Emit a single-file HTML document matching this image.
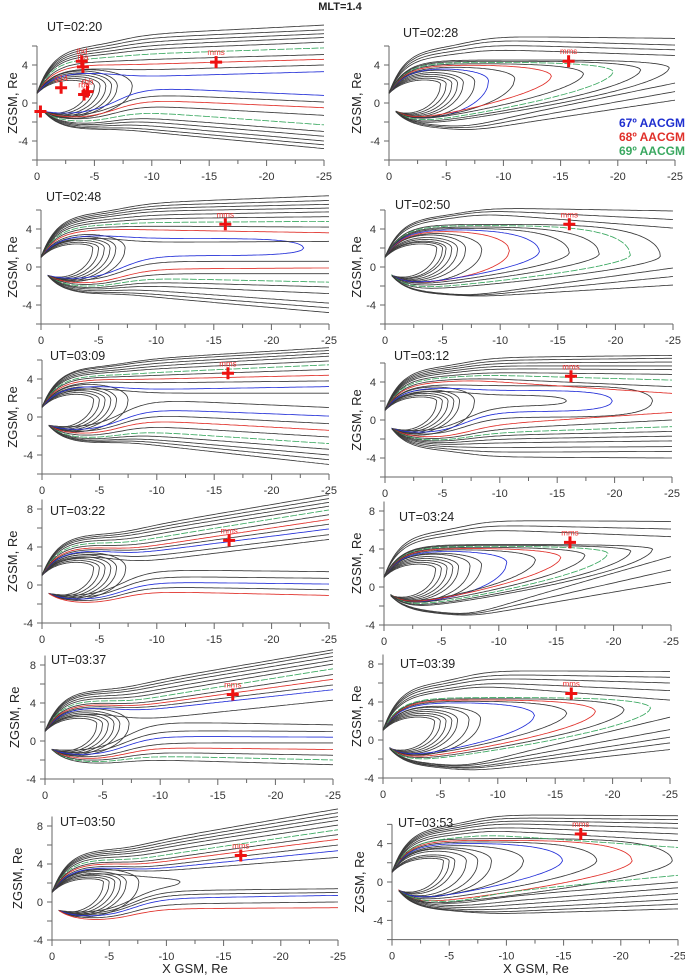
<!DOCTYPE html>
<html><head><meta charset="utf-8"><title>MLT=1.4 field lines</title>
<style>
html,body{margin:0;padding:0;background:#fff;}
svg{display:block;font-family:"Liberation Sans",Arial,sans-serif;}
</style></head>
<body>
<svg id="fig" width="685" height="979" viewBox="0 0 685 979" xmlns="http://www.w3.org/2000/svg">
<text x="340" y="10" font-size="11" font-weight="bold" fill="#222" text-anchor="middle">MLT=1.4</text>
<g font-size="12" font-weight="bold">
<text x="619" y="127" fill="#1f2fd0">67º AACGM</text>
<text x="619" y="141" fill="#e0302a">68º AACGM</text>
<text x="619" y="155" fill="#3aa860">69º AACGM</text>
</g>
<text x="195" y="973" font-size="13" fill="#222" text-anchor="middle">X GSM, Re</text>
<text x="536" y="973" font-size="13" fill="#222" text-anchor="middle">X GSM, Re</text>
</svg>
<script>
// ---- data (per panel, panel order: row by row, left then right) ----
const utLabels = ["UT=02:20","UT=02:28","UT=02:48","UT=02:50","UT=03:09","UT=03:12","UT=03:22","UT=03:24","UT=03:37","UT=03:39","UT=03:50","UT=03:53"];
const closedTips = [
 [4.5,5,5.5,6,6.5,7,8.3],
 [4.5,5,5.5,6,6.5,7.5,8.7,11,14.2,17,19.6,22,24.5],
 [4.5,5,5.5,6,6.5,7.3,22.8],
 [4.5,5,5.3,5.8,6.3,7,8.4,10.8,13.4,16,18.6,21.3,23.9],
 [4.5,5,5.5,6,6.5,7.5],
 [4.5,5,5.5,6,6.5,7.8,15.8,19.8,23.3],
 [4.5,5,5.5,6,6.5,7.3],
 [4.5,5,5.5,6,6.5,7.5,8.5,10.7,13.2,15.4,17.5,19.5,21.5,23.4],
 [4.5,5,5.5,6,6.5,7.3],
 [4.5,5,5.5,6,6.5,7.5,8.5,13.2,16,18.5,21,23.3],
 [4.5,5,5.5,6,6.5,7.6,11.2],
 [4.5,5,5.5,6.5,7.5,8.7,11.5,14.9,17.9,21,24.5]
];
// heights of the stretched (thin) loops in the tail; null = ordinary dipole-like loop
const closedFarTop = [
 [null,null,null,null,null,null,null],
 [],
 [null,null,null,null,null,null,3.0],
 [],
 [],
 [null,null,null,null,null,null,2.6,3.1,3.6],
 [],
 [],
 [],
 [],
 [null,null,null,null,null,null,2.5],
 []
];
const closedFarBot = [
 [null,null,null,null,null,null,null],
 [],
 [null,null,null,null,null,null,1.2],
 [],
 [],
 [null,null,null,null,null,null,1.5,0.9,0.3],
 [],
 [],
 [],
 [],
 [null,null,null,null,null,null,1.7],
 []
];
const closedColors = ["kkkkkkk","kkkkkkbkrkgkk","kkkkkkb","kkkkkkkrbkkgk","kkkkkk","kkkkkkkbk","kkkkkk","kkkkkkkbkrkgkk","kkkkkk","kkkkkkkbkrkg","kkkkkkk","kkkkkkkbkrk"];
const tipBase = [1.8,1.6,2.0,2.2,1.8,2.0,1.8,1.4,1.8,1.6,2.1,2.2];
const tipSlope = [0,0.085,0,-0.045,0,0,0,0.11,0,0.075,0,0];
const upperZ10 = [
 [2.8,3.5,4.1,4.6,5.2,5.7,6.1,6.5,6.9,7.3],
 [5.6,6.1,6.6,7.0],
 [2.6,3.9,4.3,4.7,5.1,5.5,5.9,6.2,6.5,6.8],
 [5.5,5.9,6.2],
 [2.5,2.9,3.6,4.0,4.4,4.7,5.1,5.4,5.7,6.0,6.2],
 [4.0,4.3,4.7,5.0,5.4,5.7,6.0,6.3,6.6],
 [2.6,3.1,3.6,3.9,4.2,4.6,5.0,5.4,5.8,6.1,6.4],
 [6.0,6.5,7.0],
 [2.4,3.4,3.7,4.0,4.3,4.7,5.1,5.5,5.9,6.2,6.5],
 [5.6,6.0,6.5,6.9,7.3],
 [3.3,3.6,3.9,4.3,4.6,5.0,5.4,5.8,6.1,6.4,6.7],
 [4.8,5.3,5.7,6.1,6.4,6.7,7.0]
];
const upperZ25 = [
 [3.3,4.0,4.6,5.1,5.8,6.4,6.9,7.3,7.7,8.2],
 [5.0,5.6,6.1,6.8],
 [2.7,3.6,4.2,4.8,5.3,5.8,6.2,6.6,7.0,7.5],
 [4.1,5.0,5.9],
 [2.5,3.2,3.8,4.4,5.0,5.5,5.9,6.4,6.7,7.0,7.3],
 [2.8,3.5,4.2,4.8,5.3,5.7,6.1,6.5,6.8],
 [4.8,5.3,5.9,6.4,6.9,7.4,7.9,8.3,8.7,9.1,9.5],
 [5.3,6.1,6.9],
 [4.3,5.4,5.9,6.5,7.0,7.6,8.1,8.5,8.9,9.3,9.6],
 [4.2,5.2,6.0,6.6,7.2],
 [4.7,5.4,6.0,6.6,7.1,7.6,8.1,8.6,9.0,9.4,9.8],
 [3.6,4.3,5.0,5.6,6.1,6.5,6.9]
];
const upperColors = ["bkrkgkkkkk","kkkk","krkgkkkkkk","kkk","kbkrkgkkkkk","rkgkkkkkk","kkbkrkgkkkk","kkk","kbkrkgkkkkk","kkkkk","kbkrkgkkkkk","gkkkkkk"];
const lowerZ10 = [
 [1.6,0.9,0.3,-0.3,-1.0,-1.6,-2.0,-2.4,-2.8,-3.1],
 [-1.6,-2.0,-2.4],
 [0.6,-0.2,-0.7,-1.2,-1.6,-2.0,-2.5,-2.9,-3.2],
 [-2.6,-2.8,-3.0],
 [1.8,0.8,0.2,-0.4,-1.0,-1.6,-2.0,-2.4,-2.7,-3.0],
 [-0.4,-0.9,-1.3,-1.6,-2.0,-2.4,-2.9,-3.4,-3.9],
 [1.6,0.9,0.3,-0.2,-0.7],
 [-2.0,-2.3,-2.6],
 [2.0,1.1,0.5,-0.2,-0.7,-1.2,-1.6,-2.0],
 [-1.9,-2.2,-2.5,-2.7,-3.0],
 [1.2,0.8,0.4,-0.2,-0.7],
 [-1.0,-1.5,-2.0,-2.4,-2.8,-3.1,-3.3]
];
const lowerZ25 = [
 [0.8,0.1,-0.5,-1.3,-2.3,-3.0,-3.5,-4.0,-4.4,-4.8],
 [2.1,1.2,0.3],
 [0.6,-0.1,-0.7,-1.6,-2.1,-2.8,-3.8,-4.3,-4.8],
 [-0.1,-1.0,-1.9],
 [1.0,0.1,-0.7,-1.4,-2.1,-2.8,-3.4,-4.0,-4.5,-5.0],
 [0.8,0.0,-0.7,-1.2,-1.7,-2.2,-2.8,-3.3,-4.0],
 [1.4,0.7,0.1,-0.5,-1.1],
 [3.2,1.8,0.5],
 [1.7,1.0,0.4,-0.2,-0.9,-1.5,-2.0,-2.5],
 [2.4,1.1,0.3,-0.3,-1.0],
 [1.4,1.0,0.7,0.0,-0.6],
 [0.7,0.0,-0.6,-1.2,-1.8,-2.3,-2.8]
];
const lowerColors = ["bkrkgkkkkk","kkk","krkgkkkkk","kkk","kbkrkgkkkk","rkgkkkkkk","kkbkr","kkk","kkbkrkgk","kkkkk","kkbkr","gkkkkkk"];
const mmsX = [-15.6,-15.7,-16.0,-16.0,-16.2,-16.2,-16.3,-16.2,-16.3,-16.4,-16.5,-16.5];
const mmsZ = [4.3,4.4,4.5,4.5,4.6,4.6,4.7,4.7,4.9,4.9,4.9,5.0];
const craftX = [-0.3,-2.1,-3.9,-4.0,-4.1,-4.4];
const craftZ = [-0.9,1.6,4.4,3.8,0.9,1.2];
const craftLabels = ["","g14","thd","tha","rba","rbb"];
const xTickLabels = ["0","-5","-10","-15","-20","-25"];

// ---- layout ----
const X0 = [37,389,41,385,42,385,42,384,45,383,52,392];
const X25 = [324,675,329,673,329,672,329,671,333,670,338,678];
const Y0 = [103,103,267,267,417,420,585,587,741,740,902,882];
const SZ = [9.5,9.5,9.5,9.5,9.5,9.5,9.5,9.5,9.5,9.5,9.5,9.6];
const zTop = [6,6,6,6,6,6,9,9,9,9,9,6];
const zBot = [-6,-6,-6,-6,-6,-6,-4,-4,-4,-4,-4,-6];
const utX = [47,403,46,395,50,394,50,399,51,400,60,398];
const utY = [31,37,201,209,360,360,515,521,664,668,826,827];
const ylabX = [13,357,13,357,13,357,13,357,15,357,18,360];

const NS = "http://www.w3.org/2000/svg";
const svg = document.getElementById("fig");
const COLORS = {k:"#3a3a3a", b:"#2430d8", r:"#e0302a", g:"#3aa860"};

function sx(p, x){ return X0[p] + (-x) * (X25[p] - X0[p]) / 25; }
function sy(p, z){ return Y0[p] - z * SZ[p]; }
function mk(tag, parent){ const e = document.createElementNS(NS, tag); parent.appendChild(e); return e; }

function pathFrom(p, pts){
  let d = "";
  pts.forEach((q, i) => { d += (i ? "L" : "M") + sx(p, -q[0]).toFixed(1) + "," + sy(p, q[1]).toFixed(1); });
  return d;
}

function upperProfile(u, z10, z25){
  const zN = 0.6 * z10 + 1.6;
  const near = 1 + (zN - 1) * (1 - Math.exp(-u / 1.4));
  const far = z10 + (z25 - z10) * (u - 10) / 15;
  const s = 1 / (1 + Math.exp(-(u - 7) / 1.3));
  return (1 - s) * near + s * far;
}
function lowerProfile(u, z10, z25){
  const zN = 0.35 * z10 - 1.8;
  const near = -0.9 + (zN + 0.9) * (1 - Math.exp(-(u - 0.6) / 1.4));
  const far = z10 + (z25 - z10) * (u - 10) / 15;
  const s = 1 / (1 + Math.exp(-(u - 7) / 1.3));
  return (1 - s) * near + s * far;
}

function closedLine(p, L, farTop, farBot){
  const zt = tipBase[p] + tipSlope[p] * L;
  const thin = farTop != null;
  const zNu = Math.min(1 + 0.38 * L, 3.3 + 0.05 * L);
  const zNl = Math.max(-0.9 - 0.16 * L, -1.6 - 0.05 * L);
  const mu = thin ? 10 : 2 + L / 5, ml = 1.6 + L / 10;
  const w = thin ? 0 : Math.min(1, Math.max(0, (L - 8) / 6));
  const st = L < 10 ? 0.08 : 0.15;
  const pts = [];
  for (let u = 0; u <= L + 1e-6; u += st){
    const t = Math.min(1, u / L);
    const f = thin ? upperProfile(u, farTop, farTop) : 1 + (zNu - 1) * (1 - Math.exp(-u / 1.4));
    const g = Math.pow(Math.max(0, 1 - Math.pow(t, mu)), 0.5);
    pts.push([u, zt + (f - zt) * g]);
  }
  pts.push([L, zt]);
  for (let u = L; u >= 0.6 - 1e-6; u -= st){
    const t = Math.min(1, u / L);
    let f, g;
    if (thin){
      f = lowerProfile(u, farBot, farBot);
      g = Math.pow(Math.max(0, 1 - Math.pow(t, 10)), 0.5);
    } else {
      f = -0.9 + (zNl + 0.9) * (1 - Math.exp(-(u - 0.6) / 1.4));
      const ge = Math.pow(Math.max(0, 1 - Math.pow(t, ml)), 0.5);
      const gl = Math.pow(Math.max(0, 1 - t), 0.6);
      g = (1 - w) * ge + w * gl;
    }
    pts.push([u, zt + (f - zt) * g]);
  }
  pts.push([0.6, -0.9]);
  return pts;
}

function openLine(upper, z10, z25){
  const pts = [];
  const start = upper ? 0 : 0.6;
  for (let u = start; u <= 25.001; u += 0.2){
    pts.push([u, upper ? upperProfile(u, z10, z25) : lowerProfile(u, z10, z25)]);
  }
  return pts;
}

function cross(p, g, x, z, label, nm){
  const cx = sx(p, x), cy = sy(p, z);
  const c = mk("path", g);
  c.setAttribute("d", `M${cx-6},${cy}H${cx+6}M${cx},${cy-6}V${cy+6}`);
  c.setAttribute("stroke", "#ee1111"); c.setAttribute("stroke-width", "3");
  
  
  if (label){
    const t = mk("text", g);
    t.setAttribute("x", cx); t.setAttribute("y", cy - 7);
    t.setAttribute("font-size", "8"); t.setAttribute("fill", "#e33");
    t.setAttribute("text-anchor", "middle");
    t.textContent = label;
    
    
  }
}

for (let p = 0; p < 12; p++){
  const g = mk("g", svg);
  
  

  const ax = mk("g", g);
  
  
  const yTopPx = sy(p, zTop[p]), yBotPx = sy(p, zBot[p]);
  let d = `M${X0[p]},${yTopPx}V${yBotPx}H${X25[p]}`;
  for (let z = zBot[p]; z <= zTop[p]; z += 2) d += `M${X0[p]-5},${sy(p,z)}H${X0[p]}`;
  for (let k = 0; k <= 10; k++){ const x = sx(p, -2.5 * k); d += `M${x},${yBotPx}V${yBotPx + (k % 2 ? 4 : 6)}`; }
  const axp = mk("path", ax);
  axp.setAttribute("d", d); axp.setAttribute("stroke", "#666"); axp.setAttribute("fill", "none"); axp.setAttribute("stroke-width", "1");
  
  
  for (let z = -8; z <= 8; z += 4){
    if (z < zBot[p] || z > zTop[p]) continue;
    const t = mk("text", ax);
    t.setAttribute("x", X0[p] - 9); t.setAttribute("y", sy(p, z) + 4);
    t.setAttribute("font-size", "11"); t.setAttribute("fill", "#333"); t.setAttribute("text-anchor", "end");
    t.textContent = String(z);
    
    
  }
  xTickLabels.forEach((lab, k) => {
    const t = mk("text", ax);
    t.setAttribute("x", sx(p, -5 * k)); t.setAttribute("y", yBotPx + 20);
    t.setAttribute("font-size", "11"); t.setAttribute("fill", "#333"); t.setAttribute("text-anchor", "middle");
    t.textContent = lab;
    
    
  });
  const yl = mk("text", ax);
  const ymid = (yTopPx + yBotPx) / 2;
  yl.setAttribute("x", ylabX[p]); yl.setAttribute("y", ymid);
  yl.setAttribute("font-size", "13"); yl.setAttribute("fill", "#222"); yl.setAttribute("text-anchor", "middle");
  yl.setAttribute("transform", `rotate(-90 ${ylabX[p]} ${ymid})`);
  yl.setAttribute("dy", "4");
  yl.textContent = "ZGSM, Re";
  
  

  const ut = mk("text", g);
  ut.setAttribute("x", utX[p]); ut.setAttribute("y", utY[p]);
  ut.setAttribute("font-size", "12.5"); ut.setAttribute("fill", "#222");
  ut.textContent = utLabels[p];
  
  

  const lines = mk("g", g);
  lines.setAttribute("fill", "none"); lines.setAttribute("stroke-width", "0.85");
  
  
  function addLine(pts, col, nm){
    const e = mk("path", lines);
    e.setAttribute("d", pathFrom(p, pts));
    e.setAttribute("stroke", COLORS[col] || COLORS.k);
    if (col === "g") e.setAttribute("stroke-dasharray", "7 1.5");
    
    
  }
  closedTips[p].forEach((L, i) => {
    const ft = closedFarTop[p][i], fb = closedFarBot[p][i];
    addLine(closedLine(p, L, ft == null ? null : ft, fb == null ? null : fb), closedColors[p][i], 'closed-field-line');
  });
  upperZ10[p].forEach((z10, i) => addLine(openLine(true, z10, upperZ25[p][i]), upperColors[p][i], 'north-lobe-field-line'));
  lowerZ10[p].forEach((z10, i) => addLine(openLine(false, z10, lowerZ25[p][i]), lowerColors[p][i], 'south-lobe-field-line'));

  cross(p, g, mmsX[p], mmsZ[p], "mms", "mms");
  if (p === 0){
    craftX.forEach((x, i) => cross(p, g, x, craftZ[i], craftLabels[i], "spacecraft-" + (craftLabels[i] || "ground")));
  }
}
</script>
</body></html>
